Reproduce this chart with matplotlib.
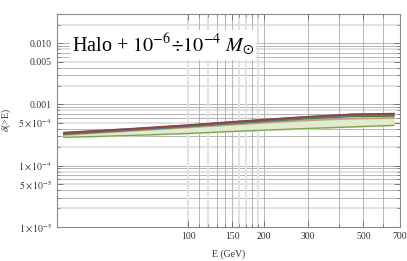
import matplotlib
matplotlib.use('Agg')
import matplotlib.pyplot as plt
from matplotlib.ticker import FixedLocator, NullFormatter, FixedFormatter

plt.rcParams['font.family'] = ['Liberation Serif', 'DejaVu Serif']
plt.rcParams['mathtext.fontset'] = 'stix'

# energia (GeV) y curvas delta(>E)
energia = [32, 60, 100, 150, 200, 300, 450, 660]
curva_roja = [3.45e-4, 4.00e-4, 4.58e-4, 5.18e-4, 5.62e-4, 6.28e-4, 6.88e-4, 7.05e-4]
curva_morada = [3.40e-4, 3.96e-4, 4.52e-4, 5.12e-4, 5.55e-4, 6.20e-4, 6.80e-4, 6.95e-4]
curva_azul = [3.35e-4, 3.90e-4, 4.46e-4, 5.02e-4, 5.45e-4, 6.10e-4, 6.65e-4, 6.80e-4]
curva_verde_osc = [3.28e-4, 3.83e-4, 4.38e-4, 4.90e-4, 5.30e-4, 5.90e-4, 6.40e-4, 6.50e-4]
curva_ocre = [3.18e-4, 3.72e-4, 4.22e-4, 4.68e-4, 5.02e-4, 5.52e-4, 5.88e-4, 6.00e-4]
curva_verde = [2.90e-4, 3.12e-4, 3.36e-4, 3.62e-4, 3.80e-4, 4.05e-4, 4.30e-4, 4.55e-4]

curvas = [
    (curva_ocre, '#b8a878'),
    (curva_verde_osc, '#4f7f3f'),
    (curva_azul, '#4f8f95'),
    (curva_morada, '#6f5a8f'),
    (curva_roja, '#8f4545'),
]

xticks = [100, 150, 200, 300, 500, 700]
yticks = [1e-5, 5e-5, 1e-4, 5e-4, 1e-3, 5e-3, 1e-2]
ytick_labels = [r'$1\times10^{-5}$', r'$5\times10^{-5}$', r'$1\times10^{-4}$',
                r'$5\times10^{-4}$', '0.001', '0.005', '0.010']

grid_x_claras = [100, 120, 160, 170, 190]
grid_x_oscuras = [110, 130, 140, 150, 180, 200, 300, 400, 500, 600]
grid_y = [m * 10.0**d for d in (-5, -4, -3, -2) for m in range(1, 10)]

fig = plt.figure(figsize=(4.07, 2.61), dpi=100)
ax = fig.add_axes([0.140, 0.131, 0.843, 0.815])
ax.set_xscale('log')
ax.set_yscale('log')
ax.set_xlim(30, 700)
ax.set_ylim(1e-5, 0.03)

# rejilla
for yv in grid_y:
    if yv > 0.03:
        continue
    m = round(yv / 10.0**int(f'{yv:e}'.split('e')[1]))
    if m in (2, 5, 8):
        ax.axhline(yv, color='#e2e2e2', lw=1.4, zorder=0)
    else:
        ax.axhline(yv, color='#aaaaaa', lw=0.6, zorder=0)
for xv in grid_x_claras:
    ax.axvline(xv, color='#e2e2e2', lw=1.4, zorder=0)
for xv in grid_x_oscuras:
    ax.axvline(xv, color='#aaaaaa', lw=0.6, zorder=0)

ax.fill_between(energia, curva_verde, curva_ocre, color='#e2ead2', zorder=1)
ax.plot(energia, curva_verde, color='#7fa550', lw=1.0, zorder=2)
for valores, color in curvas:
    ax.plot(energia, valores, color=color, lw=1.4, zorder=3)

ax.xaxis.set_major_locator(FixedLocator(xticks))
ax.xaxis.set_major_formatter(FixedFormatter([str(v) for v in xticks]))
ax.xaxis.set_minor_locator(FixedLocator([110, 120, 130, 140, 160, 170, 180, 190, 400, 600]))
ax.xaxis.set_minor_formatter(NullFormatter())
ax.yaxis.set_major_locator(FixedLocator(yticks))
ax.yaxis.set_major_formatter(FixedFormatter(ytick_labels))
ax.yaxis.set_minor_locator(FixedLocator([v for v in grid_y if v not in yticks]))
ax.yaxis.set_minor_formatter(NullFormatter())

ax.tick_params(which='both', direction='in', top=True, right=True, labelsize=7,
               color='#666666', labelcolor='#333333')
ax.tick_params(which='major', length=4, width=0.6)
ax.tick_params(which='minor', length=2, width=0.5)
for s in ax.spines.values():
    s.set_color('#888888')
    s.set_linewidth(0.8)

ax.set_xlabel('E (GeV)', fontsize=7, color='#333333', labelpad=6)
ax.set_ylabel(r'$\delta$(>E)', fontsize=7, color='#333333', labelpad=4)

ax.text(0.043, 0.855, r'Halo + $10^{-6}\!\div\!10^{-4}\ M_{\odot}$', transform=ax.transAxes,
        fontsize=14.5, color='black', va='center', ha='left',
        bbox=dict(facecolor='white', edgecolor='none', pad=1.5), zorder=5)

fig.savefig('out.png', dpi=100)
